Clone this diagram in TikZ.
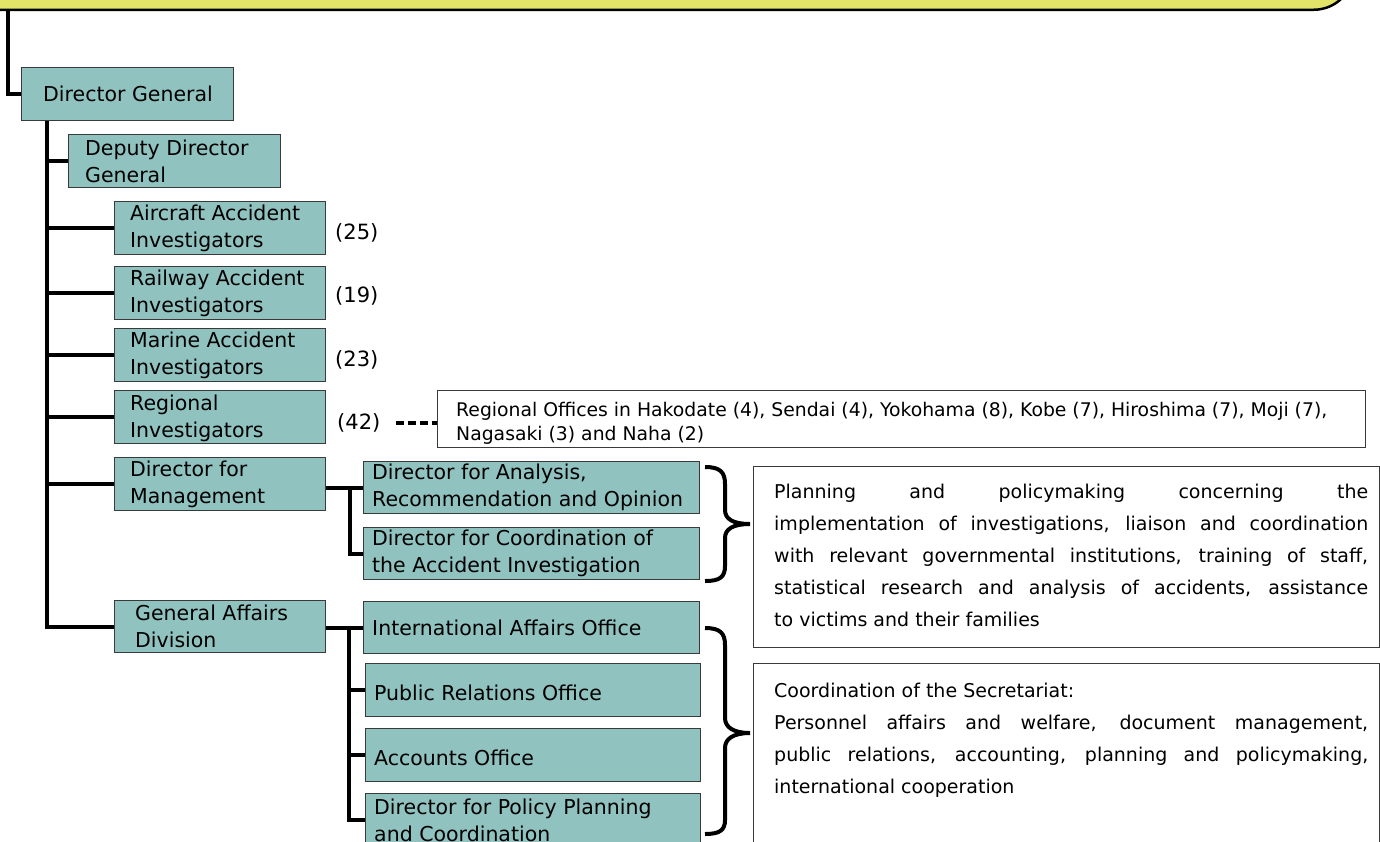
\documentclass[tikz,border=0pt]{standalone}
\usepackage{fontspec}
\setmainfont{DejaVu Sans}
\definecolor{tealfill}{HTML}{90C3C0}
\definecolor{yel}{HTML}{E1E468}
\definecolor{bline}{HTML}{3A3A3A}
\newcommand{\jline}[1]{\makebox[594pt][s]{#1}}
\begin{document}
\begin{tikzpicture}[x=1pt,y=-1pt,
  orgbox/.style={draw=bline, fill=tealfill, line width=1.3pt, anchor=north west, inner sep=0pt},
  orgtxt/.style={anchor=west, align=left, inner sep=0pt, font=\fontsize{20.5}{27}\selectfont},
  cnt/.style={anchor=west, inner sep=0pt, font=\fontsize{21}{27}\selectfont},
  descbox/.style={draw=bline, fill=white, line width=1.2pt, anchor=north west, inner sep=0pt},
  desctxt/.style={anchor=north west, align=left, inner sep=0pt, font=\fontsize{19}{32}\selectfont},
  conn/.style={line width=4pt, black},
  dashline/.style={line width=3.5pt, black, dash pattern=on 8pt off 4pt},
  bracepath/.style={line width=4pt, black}
]
\useasboundingbox (0,0) rectangle (1380,841);
\clip (0,0) rectangle (1380,841);

% header
\node[draw=black, line width=2.5pt, fill=yel, rounded corners=40pt, minimum width=1440pt, minimum height=120pt, anchor=south east, inner sep=0pt] (hdr) at (1355,11) {};
\coordinate (c0) at (7.5,11);

% boxes
\node[orgbox, minimum width=212pt, minimum height=53pt] (dg) at (21,67) {};
\node[orgtxt] (dgt) at ([xshift=22pt]dg.west) {Director General};
\node[orgbox, minimum width=212pt, minimum height=53pt] (ddg) at (68,134) {};
\node[orgtxt] (ddgt) at ([xshift=17pt]ddg.west) {Deputy Director\\General};
\node[orgbox, minimum width=211pt, minimum height=53pt] (aai) at (114,201) {};
\node[orgtxt] (aait) at ([xshift=16pt]aai.west) {Aircraft Accident\\Investigators};
\node[orgbox, minimum width=211pt, minimum height=53pt] (rai) at (114,266) {};
\node[orgtxt] (rait) at ([xshift=16pt]rai.west) {Railway Accident\\Investigators};
\node[orgbox, minimum width=211pt, minimum height=53pt] (mai) at (114,328) {};
\node[orgtxt] (mait) at ([xshift=16pt]mai.west) {Marine Accident\\Investigators};
\node[orgbox, minimum width=211pt, minimum height=53pt] (rgi) at (114,390) {};
\node[orgtxt] (rgit) at ([xshift=16pt,yshift=-1pt]rgi.west) {Regional\\Investigators};
\node[orgbox, minimum width=211pt, minimum height=53pt] (dm) at (114,457) {};
\node[orgtxt] (dmt) at ([xshift=16pt]dm.west) {Director for\\Management};
\node[orgbox, minimum width=211pt, minimum height=52pt] (gad) at (114,600) {};
\node[orgtxt] (gadt) at ([xshift=21pt]gad.west) {General Affairs\\Division};

\node[orgbox, minimum width=336pt, minimum height=52pt] (dan) at (363,461) {};
\node[orgtxt] (dant) at ([xshift=9pt]dan.west) {Director for Analysis,\\Recommendation and Opinion};
\node[orgbox, minimum width=336pt, minimum height=52pt] (dco) at (363,527) {};
\node[orgtxt] (dcot) at ([xshift=9pt]dco.west) {Director for Coordination of\\the Accident Investigation};
\node[orgbox, minimum width=336pt, minimum height=52pt] (iao) at (363,601) {};
\node[orgtxt] (iaot) at ([xshift=9pt]iao.west) {International Affairs Office};
\node[orgbox, minimum width=335pt, minimum height=53pt] (pro) at (365,663) {};
\node[orgtxt] (prot) at ([xshift=9pt,yshift=-3pt]pro.west) {Public Relations Office};
\node[orgbox, minimum width=335pt, minimum height=53pt] (acc) at (365,728) {};
\node[orgtxt] (acct) at ([xshift=9pt,yshift=-3pt]acc.west) {Accounts Office};
\node[orgbox, minimum width=335pt, minimum height=53pt] (ppc) at (365,793) {};
\node[orgtxt] (ppct) at ([xshift=9pt]ppc.west) {Director for Policy Planning\\and Coordination};

% counts
\node[cnt] (n25) at (335,233) {(25)};
\node[cnt] (n19) at (335,296) {(19)};
\node[cnt] (n23) at (335,360) {(23)};
\node[cnt] (n42) at (337,423) {(42)};

% regional offices
\node[descbox, minimum width=928pt, minimum height=57pt] (ro) at (437,390) {};
\node[anchor=west, align=left, inner sep=0pt, font=\fontsize{18.8}{24}\selectfont] (rot) at ([xshift=19pt,yshift=-4pt]ro.west) {Regional Offices in Hakodate (4), Sendai (4), Yokohama (8), Kobe (7), Hiroshima (7), Moji (7),\\Nagasaki (3) and Naha (2)};

% descriptions
\node[descbox, minimum width=626pt, minimum height=181pt] (d1) at (753,466) {};
\node[desctxt] (d1t) at (774,484) {\jline{Planning and policymaking concerning the}\\
\jline{implementation of investigations, liaison and coordination}\\
\jline{with relevant governmental institutions, training of staff,}\\
\jline{statistical research and analysis of accidents, assistance}\\
to victims and their families};
\node[descbox, minimum width=626pt, minimum height=200pt] (d2) at (753,663) {};
\node[desctxt] (d2t) at (774,683) {Coordination of the Secretariat:\\
\jline{Personnel affairs and welfare, document management,}\\
\jline{public relations, accounting, planning and policymaking,}\\
international cooperation};

% connectors
\draw[conn] (c0) |- (dg.west);
\draw[conn] ([xshift=26pt]dg.south west) coordinate (tr) |- (gad.west);
\draw[conn] (tr |- ddg.west) -- (ddg.west);
\draw[conn] (tr |- aai.west) -- (aai.west);
\draw[conn] (tr |- rai.west) -- (rai.west);
\draw[conn] (tr |- mai.west) -- (mai.west);
\draw[conn] (tr |- rgi.west) -- (rgi.west);
\draw[conn] (tr |- dm.west) -- (dm.west);

\draw[conn] (dm.east |- dan.west) -- (dan.west);
\draw[conn] ([xshift=-13pt]dan.west) |- (dco.west);
\draw[conn] (gad.east |- iao.west) -- (iao.west);
\draw[conn] ([xshift=-14pt]iao.west) coordinate (sv) |- (ppc.west);
\draw[conn] (sv |- pro.west) -- (pro.west);
\draw[conn] (sv |- acc.west) -- (acc.west);

\draw[dashline] ([xshift=15pt]n42.east) -- (n42.east -| ro.west);

% braces
\draw[bracepath] (705,467) .. controls (720,467) and (725,472) .. (725,484) -- (725,510)
  .. controls (725,519) and (733,524) .. (750,524)
  .. controls (733,524) and (725,529) .. (725,538) -- (725,566)
  .. controls (725,577) and (720,581) .. (705,581);
\draw[bracepath] (705,628) .. controls (720,628) and (725,633) .. (725,645) -- (725,718)
  .. controls (725,727) and (733,733) .. (750,733)
  .. controls (733,733) and (725,739) .. (725,748) -- (725,820)
  .. controls (725,830) and (720,834) .. (705,834);
\end{tikzpicture}
\end{document}
